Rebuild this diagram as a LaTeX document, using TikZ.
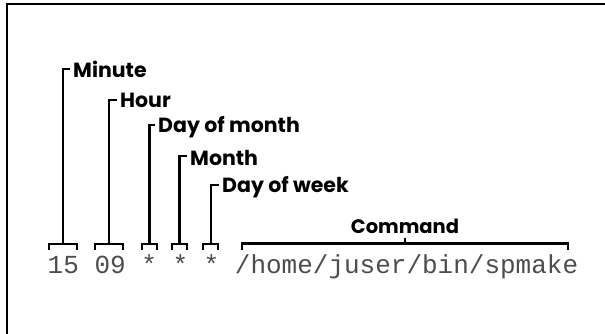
\documentclass[tikz,border=0pt]{standalone}
\usepackage{fontspec}
\setmainfont{Liberation Serif}
\setsansfont{Poppins}
\setmonofont{Liberation Mono}
\begin{document}
\begin{tikzpicture}[x=1pt,y=-1pt,
  lbl/.style={font=\sffamily\bfseries\fontsize{20.5}{20.5}\selectfont, anchor=base west, inner sep=0pt},
  mono/.style={font=\ttfamily\fontsize{26}{26}\selectfont, anchor=base west, inner sep=0pt, text=black!70},
  brk/.style={line width=2.8pt},
  frame/.style={line width=2.5pt}]
\useasboundingbox (0,0) rectangle (605,334);
\draw[frame] (7,340) -- (7,4) -- (610,4);
\node[mono] (cmdline) at (47.5,273) {15 09 * * * /home/juser/bin/spmake};
% labels
\node[lbl] (minute) at (73,78) {Minute};
\node[lbl] (hour) at (120,108) {Hour};
\node[lbl] (dom) at (158,133) {Day of month};
\node[lbl] (month) at (190,165) {Month};
\node[lbl] (dow) at (222,192) {Day of week};
\node[lbl, anchor=base, font=\sffamily\bfseries\fontsize{19.5}{19.5}\selectfont] (command) at (405,233) {Command};
% bracket stems
\coordinate (s1) at (63,244); \coordinate (t1) at (63,69);
\coordinate (s2) at (109,244); \coordinate (t2) at (109,100);
\coordinate (s3) at (149.5,244); \coordinate (t3) at (149.5,125);
\coordinate (s4) at (179.5,244); \coordinate (t4) at (179.5,156);
\coordinate (s5) at (211,244); \coordinate (t5) at (211,185);
% brackets
\draw[brk] (49,250) -- (49,244) -- (77,244) -- (77,250);
\draw[brk] (95,250) -- (95,244) -- (123,244) -- (123,250);
\draw[brk] (142,250) -- (142,244) -- (157,244) -- (157,250);
\draw[brk] (172,250) -- (172,244) -- (187,244) -- (187,250);
\draw[brk] (203,250) -- (203,244) -- (218,244) -- (218,250);
\draw[brk] (242,250) -- (242,243.5) -- (568,243.5) -- (568,250);
\draw[brk] (405,243.5) -- (405,238);
% stems to labels
\draw[brk] (s1) -- (t1) -- ([xshift=-3pt]minute.base west |- t1);
\draw[brk] (s2) -- (t2) -- ([xshift=-3pt]hour.base west |- t2);
\draw[brk] (s3) -- (t3) -- ([xshift=-3pt]dom.base west |- t3);
\draw[brk] (s4) -- (t4) -- ([xshift=-3pt]month.base west |- t4);
\draw[brk] (s5) -- (t5) -- ([xshift=-3pt]dow.base west |- t5);
\end{tikzpicture}
\end{document}
